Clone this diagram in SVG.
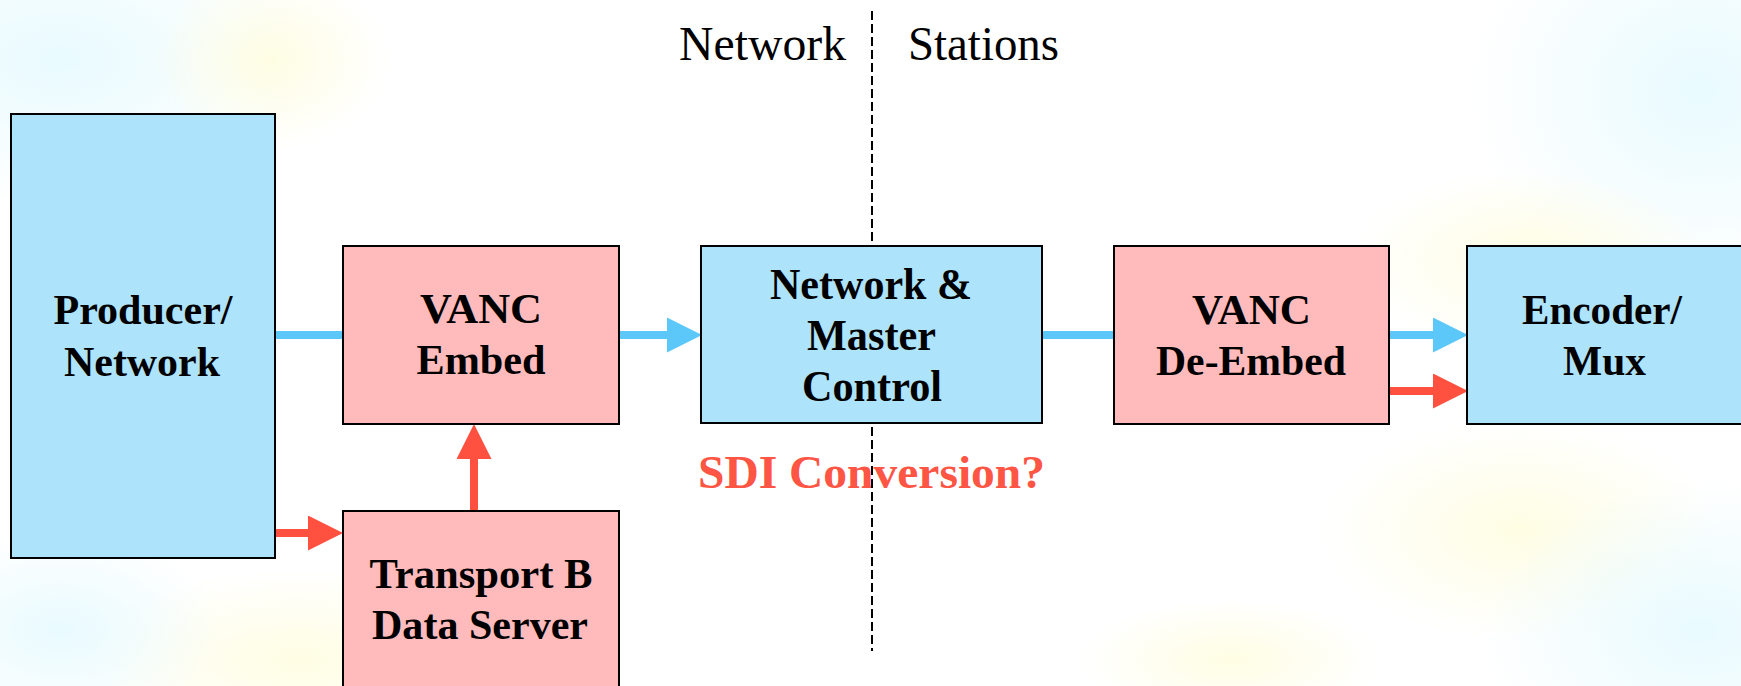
<svg xmlns="http://www.w3.org/2000/svg" width="1741" height="686" viewBox="0 0 1741 686">
<defs>
<style>
.box{stroke:#000;stroke-width:2}
.blue{fill:#AEE3FC}
.pink{fill:#FFBBBB}
.lbl{font-family:"Liberation Serif","Times New Roman",serif;font-weight:bold;font-size:42px;fill:#000;text-anchor:middle}
.top{font-family:"Liberation Serif","Times New Roman",serif;font-size:48px;fill:#000}
.cb{stroke:#5CC8FA;stroke-width:8;fill:none}
.cr{stroke:#FF5040;stroke-width:8;fill:none}
</style>
<marker id="hb" markerUnits="userSpaceOnUse" markerWidth="36" markerHeight="36" refX="0" refY="17.5" orient="auto" viewBox="0 0 36 36"><path d="M0,0 L35,17.5 L0,35 z" fill="#5CC8FA"/></marker>
<marker id="hr" markerUnits="userSpaceOnUse" markerWidth="36" markerHeight="36" refX="0" refY="17.5" orient="auto" viewBox="0 0 36 36"><path d="M0,0 L35,17.5 L0,35 z" fill="#FF5040"/></marker>
<radialGradient id="gc"><stop offset="0" stop-color="#E6FAFF" stop-opacity="0.9"/><stop offset="1" stop-color="#E6FAFF" stop-opacity="0"/></radialGradient>
<radialGradient id="gy"><stop offset="0" stop-color="#FFFDE0" stop-opacity="0.9"/><stop offset="1" stop-color="#FFFDE0" stop-opacity="0"/></radialGradient>
</defs>
<rect width="1741" height="686" fill="#fff"/>
<g id="background">
<ellipse cx="60" cy="60" rx="260" ry="150" fill="url(#gc)"/>
<ellipse cx="270" cy="60" rx="120" ry="90" fill="url(#gy)"/>
<ellipse cx="1700" cy="90" rx="230" ry="200" fill="url(#gc)"/>
<ellipse cx="1530" cy="260" rx="180" ry="90" fill="url(#gy)"/>
<ellipse cx="1520" cy="530" rx="200" ry="110" fill="url(#gy)"/>
<ellipse cx="1700" cy="630" rx="220" ry="150" fill="url(#gc)"/>
<ellipse cx="300" cy="660" rx="220" ry="90" fill="url(#gy)"/>
<ellipse cx="60" cy="630" rx="160" ry="100" fill="url(#gc)"/>
<ellipse cx="1230" cy="660" rx="150" ry="60" fill="url(#gy)"/>
</g>
<g id="header">
<text class="top" x="679" y="60" textLength="167" lengthAdjust="spacingAndGlyphs">Network</text>
<text class="top" x="908" y="60" textLength="151" lengthAdjust="spacingAndGlyphs">Stations</text>
</g>
<g id="sdi-note">
<text class="lbl" x="871.5" y="488" style="font-size:46px;fill:#FF5544" textLength="347" lengthAdjust="spacingAndGlyphs">SDI Conversion?</text>
</g>
<g id="divider">
<line x1="872" y1="11" x2="872" y2="651" stroke="#000" stroke-width="2" stroke-dasharray="9,4"/>
</g>
<g id="connectors">
<line class="cb" x1="275" y1="335" x2="344" y2="335"/>
<line class="cb" x1="619" y1="335" x2="667" y2="335" marker-end="url(#hb)"/>
<line class="cb" x1="1042" y1="335" x2="1114" y2="335"/>
<line class="cb" x1="1389" y1="335" x2="1433" y2="335" marker-end="url(#hb)"/>
<line class="cr" x1="1389" y1="391" x2="1433" y2="391" marker-end="url(#hr)"/>
<line class="cr" x1="275" y1="533" x2="308" y2="533" marker-end="url(#hr)"/>
<line class="cr" x1="474" y1="511" x2="474" y2="459" marker-end="url(#hr)"/>
</g>
<g id="producer">
<rect class="box blue" x="11" y="114" width="264" height="444"/>
<text class="lbl" x="143" y="324" textLength="179" lengthAdjust="spacingAndGlyphs">Producer/</text>
<text class="lbl" x="142" y="376" textLength="156" lengthAdjust="spacingAndGlyphs">Network</text>
</g>
<g id="vanc-embed">
<rect class="box pink" x="343" y="246" width="276" height="178"/>
<text class="lbl" x="481" y="323" textLength="122" lengthAdjust="spacingAndGlyphs">VANC</text>
<text class="lbl" x="481" y="374" textLength="129" lengthAdjust="spacingAndGlyphs">Embed</text>
</g>
<g id="transport-b">
<rect class="box pink" x="343" y="511" width="276" height="190"/>
<text class="lbl" x="481" y="588" textLength="223" lengthAdjust="spacingAndGlyphs">Transport B</text>
<text class="lbl" x="480" y="639" textLength="216" lengthAdjust="spacingAndGlyphs">Data Server</text>
</g>
<g id="master-control">
<rect class="box blue" x="701" y="246" width="341" height="177"/>
<text class="lbl" x="871" y="299" style="font-size:45px" textLength="202" lengthAdjust="spacingAndGlyphs">Network &amp;</text>
<text class="lbl" x="871.5" y="350" style="font-size:45px" textLength="129" lengthAdjust="spacingAndGlyphs">Master</text>
<text class="lbl" x="872" y="401" style="font-size:45px" textLength="140" lengthAdjust="spacingAndGlyphs">Control</text>
</g>
<g id="vanc-deembed">
<rect class="box pink" x="1114" y="246" width="275" height="178"/>
<text class="lbl" x="1251.5" y="324" textLength="119" lengthAdjust="spacingAndGlyphs">VANC</text>
<text class="lbl" x="1251" y="375" textLength="190" lengthAdjust="spacingAndGlyphs">De-Embed</text>
</g>
<g id="encoder">
<rect class="box blue" x="1467" y="246" width="280" height="178"/>
<text class="lbl" x="1602" y="324" textLength="160" lengthAdjust="spacingAndGlyphs">Encoder/</text>
<text class="lbl" x="1604.5" y="375" textLength="83" lengthAdjust="spacingAndGlyphs">Mux</text>
</g>
</svg>
